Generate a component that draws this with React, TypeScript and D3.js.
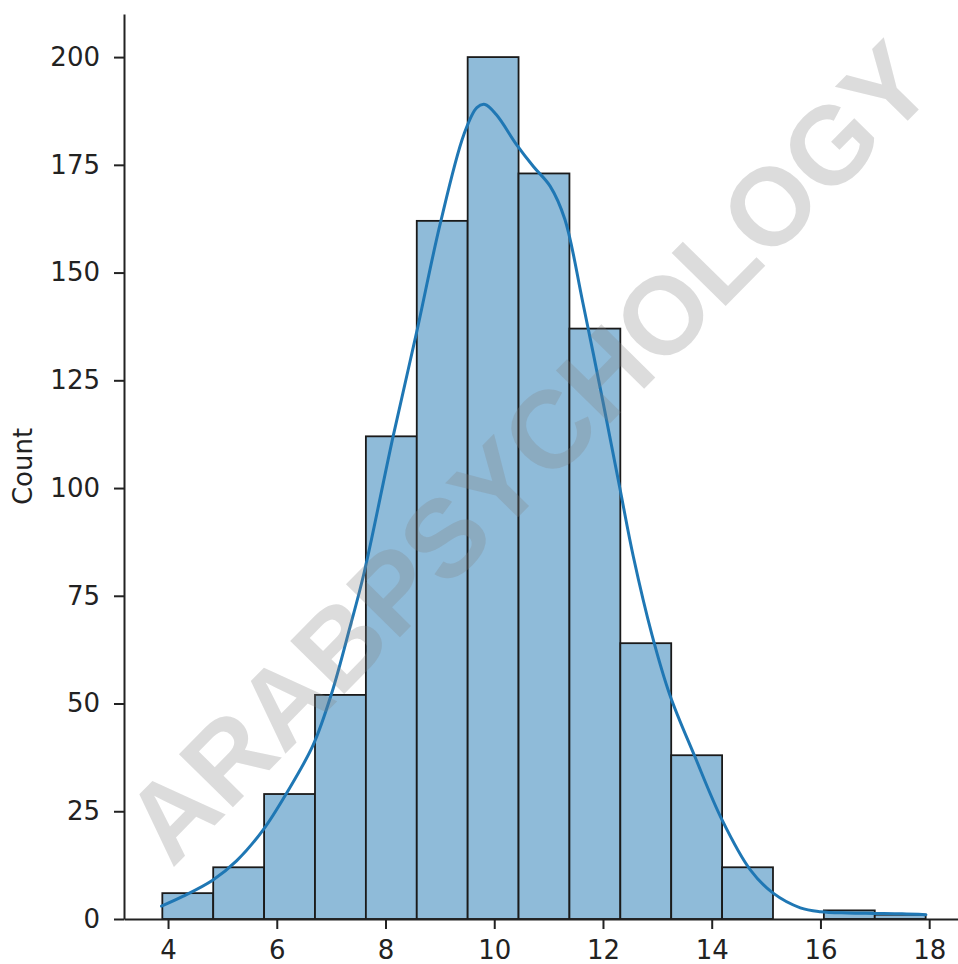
import React, { useEffect, useRef } from "react";
import * as d3 from "d3";

const binEdges = [3.895, 4.831, 5.767, 6.703, 7.639, 8.575, 9.511, 10.447, 11.383, 12.319, 13.255, 14.191, 15.127, 16.063, 16.999, 17.935];
const binCounts = [6, 12, 29, 52, 112, 162, 200, 173, 137, 64, 38, 12, 0, 2, 1];

const kdeX = [3.88, 4.28, 4.82, 5.26, 5.75, 6.18, 6.67, 7.01, 7.35, 7.6, 8.14, 8.57, 9.0, 9.44, 9.68, 9.83, 10.04, 10.41, 10.72, 11.03, 11.3, 11.63, 12.0, 12.31, 12.56, 12.9, 13.23, 13.69, 14.19, 14.71, 15.13, 15.63, 16.0, 16.5, 17.0, 17.5, 17.94];
const kdeY = [3.0, 5.3, 9.0, 13.5, 20.7, 29.2, 40.4, 52.4, 67.9, 80, 112, 136, 161, 182, 188.3, 189, 186.6, 179.7, 174.6, 170, 162.3, 143, 120, 100, 84, 66, 52, 37.7, 23, 11.4, 6, 2.6, 1.7, 1.4, 1.3, 1.2, 1.0];

const xTicks = [4, 6, 8, 10, 12, 14, 16, 18];
const yTicks = [0, 25, 50, 75, 100, 125, 150, 175, 200];
const yLabel = "Count";
const watermark = "ARABPSYCHOLOGY";

const W = 958;
const H = 964;

export default function App() {
  const ref = useRef<SVGSVGElement | null>(null);

  useEffect(() => {
    const svg = d3.select(ref.current);
    svg.selectAll("*").remove();

    const x = d3.scaleLinear().domain([3.19, 18.53]).range([124, 958]);
    const y = d3.scaleLinear().domain([0, 210]).range([919, 14]);

    const font = "'DejaVu Sans', sans-serif";

    // bars
    const bars = binCounts.map((c, i) => ({ x0: binEdges[i], x1: binEdges[i + 1], c }));
    svg
      .append("g")
      .selectAll("rect")
      .data(bars.filter((b) => b.c > 0))
      .join("rect")
      .attr("x", (d) => x(d.x0))
      .attr("width", (d) => x(d.x1) - x(d.x0))
      .attr("y", (d) => y(d.c))
      .attr("height", (d) => y(0) - y(d.c))
      .attr("fill", "#8fbbd9")
      .attr("stroke", "#1a1a1a")
      .attr("stroke-width", 1.8);

    // kde
    const pts = kdeX.map((v, i) => [v, kdeY[i]] as [number, number]);
    const line = d3
      .line<[number, number]>()
      .x((d) => x(d[0]))
      .y((d) => y(d[1]))
      .curve(d3.curveCatmullRom.alpha(0.5));
    svg
      .append("path")
      .attr("d", line(pts) as string)
      .attr("fill", "none")
      .attr("stroke", "#1f77b4")
      .attr("stroke-width", 3)
      .attr("stroke-linecap", "round");

    // axes
    const gx = svg
      .append("g")
      .attr("transform", `translate(0,${y(0)})`)
      .call(
        d3
          .axisBottom(x)
          .tickValues(xTicks)
          .tickSize(10)
          .tickPadding(12)
          .tickSizeOuter(0)
          .tickFormat(d3.format("d") as any)
      );
    gx.select(".domain").attr("stroke", "#222").attr("stroke-width", 2);
    gx.selectAll(".tick line").attr("stroke", "#222").attr("stroke-width", 2);
    gx.selectAll(".tick text")
      .attr("fill", "#222")
      .attr("font-size", 26)
      .attr("font-family", font);

    const gy = svg
      .append("g")
      .attr("transform", `translate(${x(3.19)},0)`)
      .call(
        d3
          .axisLeft(y)
          .tickValues(yTicks)
          .tickSize(10)
          .tickPadding(14)
          .tickSizeOuter(0)
          .tickFormat(d3.format("d") as any)
      );
    gy.select(".domain").attr("stroke", "#222").attr("stroke-width", 2);
    gy.selectAll(".tick line").attr("stroke", "#222").attr("stroke-width", 2);
    gy.selectAll(".tick text")
      .attr("fill", "#222")
      .attr("font-size", 26)
      .attr("font-family", font);

    svg
      .append("text")
      .attr("transform", `translate(32,${(y(0) + y(210)) / 2}) rotate(-90)`)
      .attr("text-anchor", "middle")
      .attr("fill", "#222")
      .attr("font-size", 26)
      .attr("font-family", font)
      .text(yLabel);

    // watermark
    svg
      .append("text")
      .attr("transform", `translate(528,452) rotate(-45.5)`)
      .attr("text-anchor", "middle")
      .attr("dominant-baseline", "central")
      .attr("fill", "#808080")
      .attr("fill-opacity", 0.28)
      .attr("font-size", 110)
      .attr("font-weight", "bold")
      .attr("font-family", "'Liberation Sans', Arial, sans-serif")
      .text(watermark);
  }, []);

  return (
    <svg
      ref={ref}
      width={W}
      height={H}
      style={{ position: "absolute", left: 0, top: 0, background: "#fff" }}
    />
  );
}
